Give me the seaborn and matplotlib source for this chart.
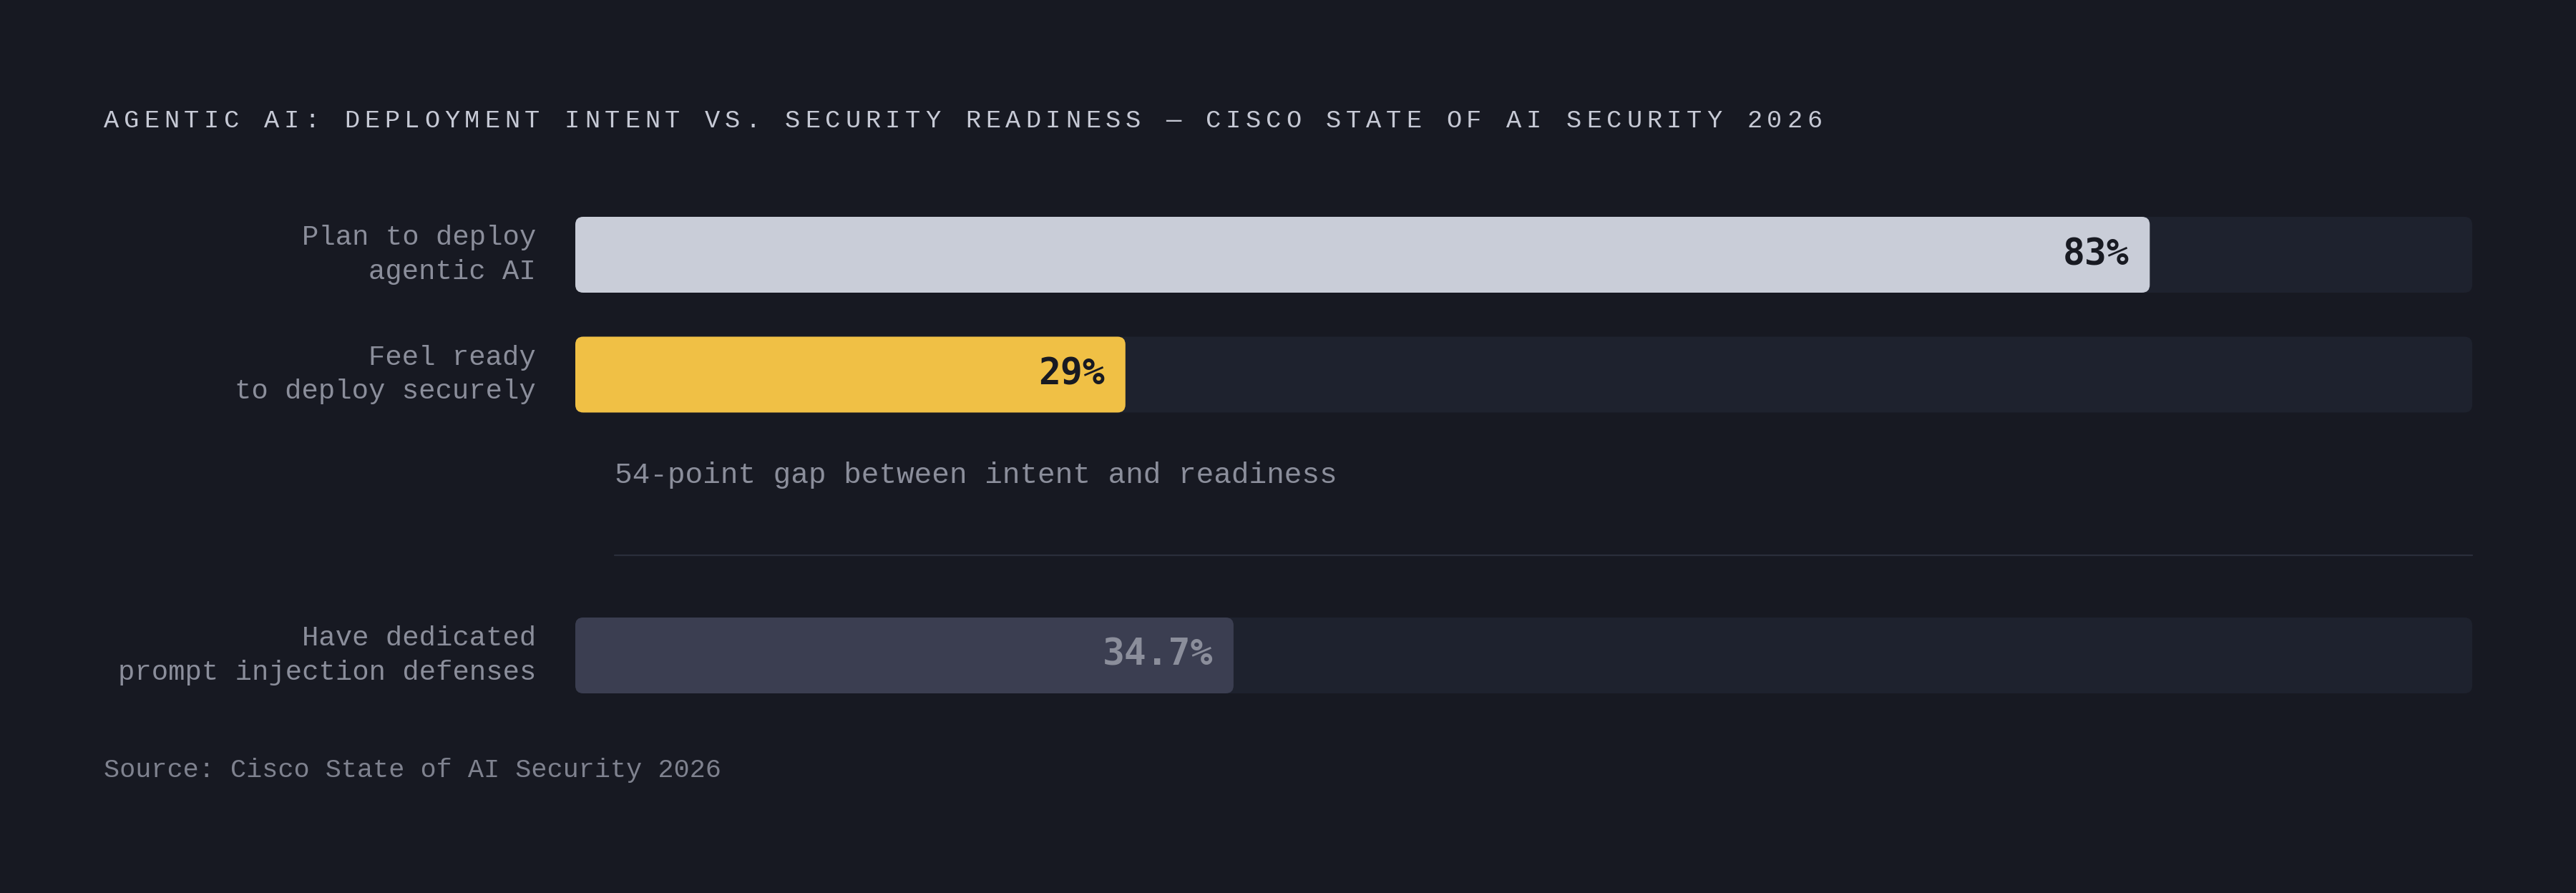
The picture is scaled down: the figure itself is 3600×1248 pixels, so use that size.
import matplotlib
matplotlib.use("Agg")
import matplotlib.pyplot as plt
import seaborn as sns
import pandas as pd
from matplotlib.patches import FancyBboxPatch

# ---------------- data ----------------
top_labels = ["Plan to deploy\nagentic AI", "Feel ready\nto deploy securely"]
top_values = [83, 29]
top_texts = ["83%", "29%"]
bottom_labels = ["Have dedicated\nprompt injection defenses"]
bottom_values = [34.7]
bottom_texts = ["34.7%"]
title = "AGENTIC AI: DEPLOYMENT INTENT VS. SECURITY READINESS \u2014 CISCO STATE OF AI SECURITY 2026"
gap_note = "54-point gap between intent and readiness"
source = "Source: Cisco State of AI Security 2026"

# ---------------- style ----------------
BG = "#171922"
TRACK = "#1e222e"
LABEL = "#8b8e9b"
TITLE_C = "#c6c9d5"
DIVIDER = "#2a2e3b"
top_colors = ["#c9cdd8", "#f0c045"]
top_text_colors = ["#181a22", "#181a22"]
bottom_colors = ["#3b3e51"]
bottom_text_colors = ["#8b8e9b"]

sns.set_theme(style="white")
plt.rcParams["font.family"] = ["Liberation Mono", "DejaVu Sans Mono"]

W, H = 3600, 1248
DPI = 100
fig = plt.figure(figsize=(W / DPI, H / DPI), dpi=DPI, facecolor=BG)

def fx(px):
    return px / W

def fy(py):
    return 1 - py / H

X0, X1 = 804, 3455
STEP = 167.5
BAR_H = 106 / STEP


def make_axes(center_py, n):
    h = n * STEP
    top = center_py - h / 2
    ax = fig.add_axes([fx(X0), fy(top + h), fx(X1 - X0), h / H])
    ax.set_facecolor("none")
    return ax


def draw_group(ax, labels, values, colors, texts, text_colors):
    df = pd.DataFrame({"label": labels, "value": values, "track": [100] * len(values)})
    sns.barplot(data=df, y="label", x="track", color=TRACK, width=BAR_H, ax=ax,
                orient="h", saturation=1)
    sns.barplot(data=df, y="label", x="value", hue="label", palette=colors,
                width=BAR_H, ax=ax, orient="h", legend=False, dodge=False, saturation=1)
    ax.set_xlim(0, 100)
    ax.set_ylim(len(values) - 0.5, -0.5)
    # rounded corners
    px_per_x = (X1 - X0) / 100
    px_per_y = STEP
    r_px = 11
    aspect = px_per_x / px_per_y
    for p in list(ax.patches):
        x, y, w, h = p.get_x(), p.get_y(), p.get_width(), p.get_height()
        fc = p.get_facecolor()
        p.set_visible(False)
        fb = FancyBboxPatch((x, y), w, h,
                            boxstyle=f"round,pad=0,rounding_size={r_px / px_per_x}",
                            mutation_aspect=aspect, facecolor=fc, edgecolor="none",
                            zorder=p.get_zorder())
        ax.add_patch(fb)
    for i, (v, t, c) in enumerate(zip(values, texts, text_colors)):
        ax.text(v - 29 / px_per_x, i, t, ha="right", va="center",
                fontsize=37, fontweight="bold", family="DejaVu Sans Mono", color=c)
    ax.set_xlabel("")
    ax.set_ylabel("")
    ax.set_xticks([])
    ax.tick_params(axis="y", length=0, pad=39.6, labelsize=28, labelcolor=LABEL)
    for lab in ax.get_yticklabels():
        lab.set_linespacing(1.42)
        lab.set_ha("right")
        lab.set_va("center")
    for s in ax.spines.values():
        s.set_visible(False)


ax1 = make_axes((356 + 523.5) / 2, 2)
draw_group(ax1, top_labels, top_values, top_colors, top_texts, top_text_colors)
ax2 = make_axes(916, 1)
draw_group(ax2, bottom_labels, bottom_values, bottom_colors, bottom_texts, bottom_text_colors)

# title with letter spacing
tx0, ty = 145, 168
for i, ch in enumerate(title):
    fig.text(fx(tx0 + i * 28), fy(ty), ch, fontsize=25.5, color=TITLE_C,
             ha="left", va="center")

fig.text(fx(859), fy(664), gap_note, fontsize=29.6, color=LABEL, ha="left", va="center")
fig.add_artist(plt.Line2D([fx(859), fx(X1)], [fy(776), fy(776)], color=DIVIDER, lw=1.6))
fig.text(fx(145), fy(1077), source, fontsize=26.6, color="#7f828f", ha="left", va="center")

fig.savefig("out.png", dpi=DPI, facecolor=BG)
